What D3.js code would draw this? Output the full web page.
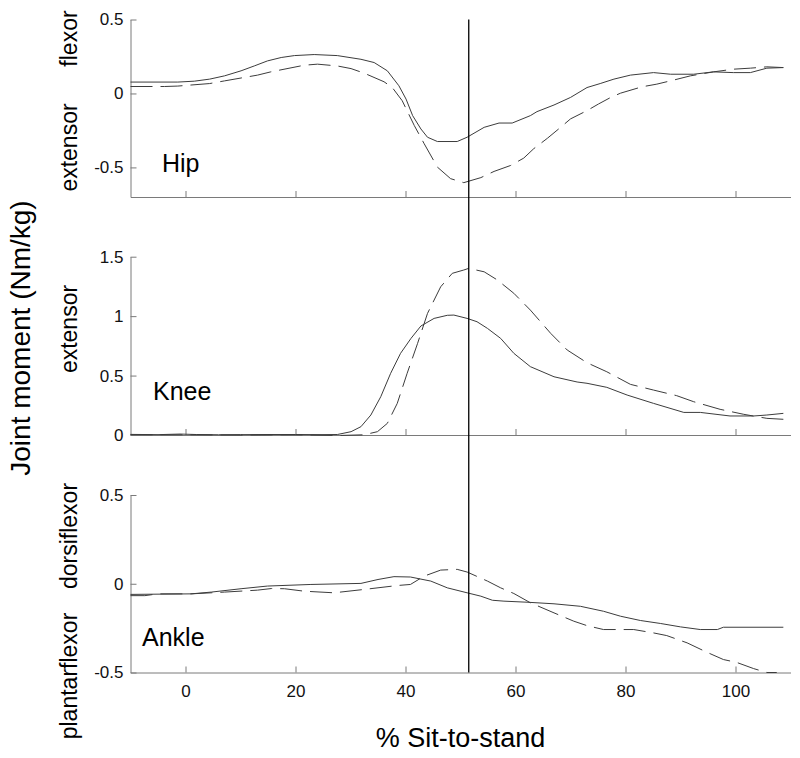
<!DOCTYPE html>
<html>
<head>
<meta charset="utf-8">
<script src="https://cdn.jsdelivr.net/npm/d3@7"></script>
<style>
  html, body { margin: 0; padding: 0; background: #fff; }
  svg { display: block; font-family: "Liberation Sans", Arial, sans-serif; }
</style>
</head>
<body>
<svg id="chart" width="800" height="758"></svg>
<script>
// ---------- DATA ----------
const xTicks = [0, 20, 40, 60, 80, 100];
const hipTicks = [-0.5, 0, 0.5];
const kneeTicks = [0, 0.5, 1, 1.5];
const ankleTicks = [-0.5, 0, 0.5];
const eventLine = 51.5;

const hipSolid = [[-10,0.077],[-1.4,0.077],[1.6,0.083],[4.4,0.097],[7.1,0.119],[10.1,0.153],[12.5,0.186],[14.9,0.22],[17.4,0.243],[19.8,0.256],[23.4,0.263],[27.6,0.256],[31.9,0.231],[34.3,0.209],[36.7,0.153],[38.8,0.052],[40.1,-0.038],[41.3,-0.15],[42.8,-0.24],[44,-0.296],[45.8,-0.325],[49.4,-0.325],[51.2,-0.296],[54.3,-0.229],[57,-0.2],[59.4,-0.2],[62.7,-0.15],[63.9,-0.123],[67,-0.078],[70,-0.027],[73,0.04],[75.4,0.067],[77.9,0.097],[80.9,0.124],[85.1,0.141],[88.2,0.13],[92.4,0.13],[96,0.146],[99.6,0.141],[102.7,0.141],[105.7,0.171],[108.7,0.175]];
const hipDashed = [[-10,0.047],[-3.8,0.047],[-1.4,0.05],[4.4,0.067],[7.1,0.085],[13.1,0.124],[15.5,0.146],[21.6,0.191],[24,0.198],[27.6,0.186],[30.1,0.168],[32.5,0.137],[36.1,0.079],[37.6,0.04],[39.4,-0.049],[41.6,-0.217],[43.4,-0.34],[45.8,-0.498],[48.2,-0.576],[50.6,-0.603],[53.7,-0.569],[56.1,-0.527],[59.1,-0.487],[61.5,-0.437],[63.3,-0.374],[65.8,-0.303],[68.2,-0.229],[70,-0.172],[73,-0.116],[75.1,-0.071],[77.3,-0.027],[79.1,0.002],[83,0.045],[85.7,0.063],[88.7,0.09],[91.8,0.119],[96,0.146],[99.6,0.164],[102.7,0.171],[105.7,0.18],[108.7,0.175]];

const kneeSolid = [[-10,0.005],[-5,0.003],[-1,0.008],[2,0.004],[6,0.002],[10,0.003],[15,0.004],[20,0.004],[25,0.003],[27.6,0.004],[30.1,0.028],[31.9,0.07],[33.7,0.168],[35.5,0.322],[37.3,0.519],[39.1,0.687],[41,0.813],[42.8,0.917],[45.2,0.981],[47.6,1.007],[48.8,1.009],[51.2,0.981],[53,0.953],[54.9,0.897],[57.3,0.813],[59.7,0.687],[62.7,0.575],[67,0.49],[71.2,0.446],[73,0.435],[76.6,0.401],[80.3,0.336],[85.1,0.266],[90.6,0.19],[93.6,0.19],[99,0.16],[103.3,0.16],[105.7,0.168],[108.7,0.182]];
const kneeDashed = [[-10,0.002],[0,0.002],[10,0],[20,0.002],[28,-0.004],[32.5,0.002],[34.9,0.028],[36.7,0.098],[38.5,0.266],[40.3,0.519],[42.2,0.771],[44,1.023],[46.4,1.247],[48.5,1.36],[50.6,1.388],[51.5,1.402],[54.3,1.373],[56.7,1.304],[59.7,1.192],[62.7,1.051],[66.4,0.855],[69.4,0.715],[73,0.608],[76.6,0.532],[80.9,0.426],[85.1,0.378],[89.3,0.331],[92.4,0.28],[97.2,0.216],[101.5,0.174],[105.7,0.14],[108.7,0.132]];

const ankleSolid = [[-10,-0.06],[1,-0.057],[4.7,-0.047],[10.1,-0.028],[14.9,-0.013],[22.8,-0.004],[31.9,0.002],[35,0.024],[37.9,0.04],[40.9,0.038],[44.6,0.015],[47.6,-0.023],[51.2,-0.051],[53.7,-0.07],[55.8,-0.093],[57.9,-0.098],[62.1,-0.104],[67,-0.113],[71.8,-0.127],[76,-0.155],[79.1,-0.183],[82.7,-0.207],[86.4,-0.224],[90,-0.243],[93.6,-0.258],[96.7,-0.258],[97.8,-0.245],[108.7,-0.245]];
const ankleDashed = [[-10,-0.067],[-7.4,-0.067],[-5,-0.057],[1,-0.057],[7.1,-0.047],[13.1,-0.036],[15.6,-0.027],[18,-0.028],[21.6,-0.042],[27,-0.051],[32.5,-0.032],[38.5,-0.01],[40.9,-0.004],[43.4,0.043],[46.4,0.077],[49.4,0.081],[51.2,0.066],[54.9,0.015],[57.3,-0.023],[59.7,-0.055],[62.7,-0.107],[67,-0.164],[70.6,-0.211],[73,-0.236],[76,-0.258],[81.5,-0.258],[85.1,-0.277],[87.5,-0.292],[91.2,-0.333],[94.8,-0.386],[97.8,-0.427],[100.2,-0.443],[103.3,-0.478],[105.7,-0.5],[107.5,-0.5]];

const panelNames = ["Hip", "Knee", "Ankle"];
const panelDomains = [[-0.7, 0.5], [0, 1.5], [-0.5, 0.5]];

// ---------- LAYOUT ----------
const svg = d3.select("#chart");
const left = 130.5, right = 790.5;
const panels = [
  { name: panelNames[0], domain: panelDomains[0], range: [197, 19.5], ticks: hipTicks, solid: hipSolid, dashed: hipDashed,
    label: [162, 172], side: [{t: "flexor", y: 38.5}, {t: "extensor", y: 147.5}], xLabels: false },
  { name: panelNames[1], domain: panelDomains[1], range: [435, 256.7], ticks: kneeTicks, solid: kneeSolid, dashed: kneeDashed,
    label: [153, 400], side: [{t: "extensor", y: 329}], xLabels: false },
  { name: panelNames[2], domain: panelDomains[2], range: [672.5, 495], ticks: ankleTicks, solid: ankleSolid, dashed: ankleDashed,
    label: [142, 646], side: [{t: "dorsiflexor", y: 536}, {t: "plantarflexor", y: 676}], xLabels: true }
];

const x = d3.scaleLinear().domain([-10, 110]).range([left, right]);
const axisColor = "#7a7a7a";
const lineColor = "#3c3c3c";
const fmt = d => String(d);

panels.forEach(p => {
  const y = d3.scaleLinear().domain(p.domain).range(p.range);
  p.y = y;

  // x axis
  const gx = svg.append("g").attr("transform", `translate(0,${p.range[0]})`)
    .call(d3.axisBottom(x).tickValues(xTicks).tickSizeInner(-6).tickSizeOuter(0).tickPadding(12)
      .tickFormat(p.xLabels ? fmt : () => ""));
  // y axis
  const gy = svg.append("g").attr("transform", `translate(${left},0)`)
    .call(d3.axisLeft(y).tickValues(p.ticks).tickSizeInner(-6).tickSizeOuter(0).tickPadding(7).tickFormat(fmt));

  [gx, gy].forEach(g => {
    g.select(".domain").attr("stroke", axisColor).attr("stroke-width", 1);
    g.selectAll(".tick line").attr("stroke", axisColor).attr("stroke-width", 1);
    g.selectAll(".tick text").attr("fill", "#111").style("font-size", "17px")
      .style("font-family", "'Liberation Sans', Arial, sans-serif");
  });

  const line = d3.line().x(d => x(d[0])).y(d => y(d[1]));
  svg.append("path").datum(p.solid).attr("d", line)
    .attr("fill", "none").attr("stroke", lineColor).attr("stroke-width", 1);
  svg.append("path").datum(p.dashed).attr("d", line)
    .attr("fill", "none").attr("stroke", lineColor).attr("stroke-width", 1)
    .attr("stroke-dasharray", "22,8");

  svg.append("text").attr("x", p.label[0]).attr("y", p.label[1])
    .style("font-size", "25px").attr("fill", "#000").text(p.name);

  p.side.forEach(s => {
    svg.append("text").attr("transform", `translate(77,${s.y}) rotate(-90)`)
      .attr("text-anchor", "middle").style("font-size", "23px").attr("fill", "#000").text(s.t);
  });
});

// vertical event line
svg.append("line")
  .attr("x1", x(eventLine)).attr("x2", x(eventLine))
  .attr("y1", panels[0].y(0.5)).attr("y2", panels[2].y(-0.5))
  .attr("stroke", "#000").attr("stroke-width", 1.3);

// axis titles
svg.append("text").attr("transform", "translate(30,338) rotate(-90)")
  .attr("text-anchor", "middle").style("font-size", "28px").attr("fill", "#000")
  .text("Joint moment (Nm/kg)");
svg.append("text").attr("x", (left + right) / 2).attr("y", 747)
  .attr("text-anchor", "middle").style("font-size", "27px").attr("fill", "#000")
  .text("% Sit-to-stand");
</script>
</body>
</html>
